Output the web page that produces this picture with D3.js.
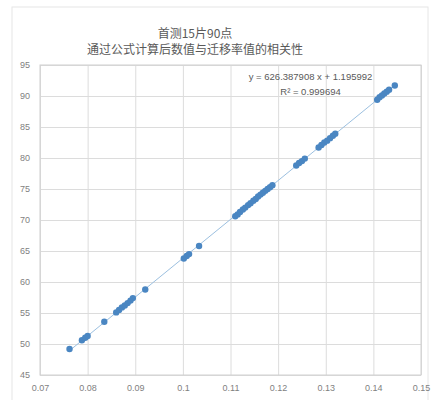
<!DOCTYPE html>
<html>
<head>
<meta charset="utf-8">
<script src="https://cdn.jsdelivr.net/npm/d3@7"></script>
<style>
  body { margin: 0; background: #fff; }
  text { font-family: "Noto Sans CJK SC", "Liberation Sans", sans-serif; }
</style>
</head>
<body>
<div id="chart"></div>
<script>
// data
var titleLines = ["首测15片90点", "通过公式计算后数值与迁移率值的相关性"];
var xTicks = [0.07, 0.08, 0.09, 0.1, 0.11, 0.12, 0.13, 0.14, 0.15];
var yTicks = [45, 50, 55, 60, 65, 70, 75, 80, 85, 90, 95];
var xVals = [0.0762, 0.0788, 0.0795, 0.0800, 0.0835,
  0.0860, 0.0866, 0.0872, 0.0878, 0.0884, 0.0890, 0.0895, 0.0921,
  0.1002, 0.1008, 0.1013, 0.1034,
  0.1110, 0.1115, 0.1120, 0.1126, 0.1131, 0.1137, 0.1142, 0.1148, 0.1153, 0.1158,
  0.1163, 0.1168, 0.1173, 0.1178, 0.1183, 0.1188,
  0.1238, 0.1244, 0.1250, 0.1256,
  0.1285, 0.1291, 0.1297, 0.1303, 0.1309, 0.1315, 0.1320,
  0.1408, 0.1413, 0.1418, 0.1423, 0.1428, 0.1433, 0.1445];
var yVals = [49.2, 50.6, 51.0, 51.3, 53.6,
  55.1, 55.5, 55.9, 56.2, 56.6, 57.0, 57.4, 58.8,
  63.8, 64.2, 64.5, 65.8,
  70.6, 70.9, 71.3, 71.7, 72.0, 72.4, 72.7, 73.1, 73.4, 73.8,
  74.1, 74.4, 74.7, 75.0, 75.3, 75.6,
  78.8, 79.2, 79.5, 79.9,
  81.7, 82.1, 82.5, 82.8, 83.2, 83.6, 83.9,
  89.4, 89.8, 90.1, 90.4, 90.7, 91.0, 91.7];
var slope = 626.387908, intercept = 1.195992;
var eqLines = ["y = 626.387908 x + 1.195992", "R² = 0.999694"];

var points = xVals.map((x, i) => ({x: x, y: yVals[i]}));

var W = 431, H = 400;
var margin = {top: 65, right: 10, bottom: 25, left: 40},
    width = 421 - margin.left,
    height = 375 - margin.top;

var svg = d3.select("#chart")
  .append("svg")
    .attr("width", W)
    .attr("height", H);

// outer frame
svg.append("rect")
  .attr("x", 12).attr("y", 7)
  .attr("width", 416).attr("height", 400)
  .attr("fill", "none")
  .attr("stroke", "#e6e6e6");

// title
svg.selectAll(".title")
  .data(titleLines)
  .enter()
  .append("text")
    .attr("x", 195)
    .attr("y", (d, i) => 38 + i * 16)
    .attr("text-anchor", "middle")
    .style("font-size", "12px")
    .attr("fill", "#595959")
    .text(d => d);

var g = svg.append("g")
  .attr("transform", "translate(" + margin.left + "," + margin.top + ")");

var x = d3.scaleLinear().domain([0.07, 0.15]).range([0, width]);
var y = d3.scaleLinear().domain([45, 95]).range([height, 0]);

// grid
g.append("g")
  .call(d3.axisBottom(x).tickValues(xTicks).tickSize(height).tickFormat(""))
  .call(a => a.select(".domain").remove())
  .selectAll("line").attr("stroke", "#dcdcdc");
g.append("g")
  .call(d3.axisLeft(y).tickValues(yTicks).tickSize(-width).tickFormat(""))
  .call(a => a.select(".domain").remove())
  .selectAll("line").attr("stroke", "#dcdcdc");

g.append("rect")
  .attr("width", width).attr("height", height)
  .attr("fill", "none").attr("stroke", "#d0d0d0");

// tick labels
var xAxis = g.append("g")
  .attr("transform", "translate(0," + height + ")")
  .call(d3.axisBottom(x).tickValues(xTicks).tickSize(0).tickPadding(10).tickFormat(d3.format("")));
var yAxis = g.append("g")
  .call(d3.axisLeft(y).tickValues(yTicks).tickSize(0).tickPadding(10));
[xAxis, yAxis].forEach(a => {
  a.select(".domain").remove();
  a.selectAll("text")
    .attr("fill", "#7f7f7f")
    .style("font-size", "9px")
    .style("font-family", "'Liberation Sans', sans-serif");
});

// trend line
var x0 = d3.min(xVals), x1 = d3.max(xVals);
g.append("line")
  .attr("x1", x(x0)).attr("y1", y(slope * x0 + intercept))
  .attr("x2", x(x1)).attr("y2", y(slope * x1 + intercept))
  .attr("stroke", "#9cc0e0")
  .attr("stroke-width", 1);

// points
g.selectAll("circle")
  .data(points)
  .enter()
  .append("circle")
    .attr("cx", d => x(d.x))
    .attr("cy", d => y(d.y))
    .attr("r", 3.2)
    .attr("fill", "#4a86c2");

// equation
g.selectAll(".eq")
  .data(eqLines)
  .enter()
  .append("text")
    .attr("x", x(0.1268))
    .attr("y", (d, i) => 15 + i * 15)
    .attr("text-anchor", "middle")
    .attr("fill", "#595959")
    .style("font-size", "9.5px")
    .style("font-family", "'Liberation Sans', sans-serif")
    .text(d => d);
</script>
</body>
</html>
